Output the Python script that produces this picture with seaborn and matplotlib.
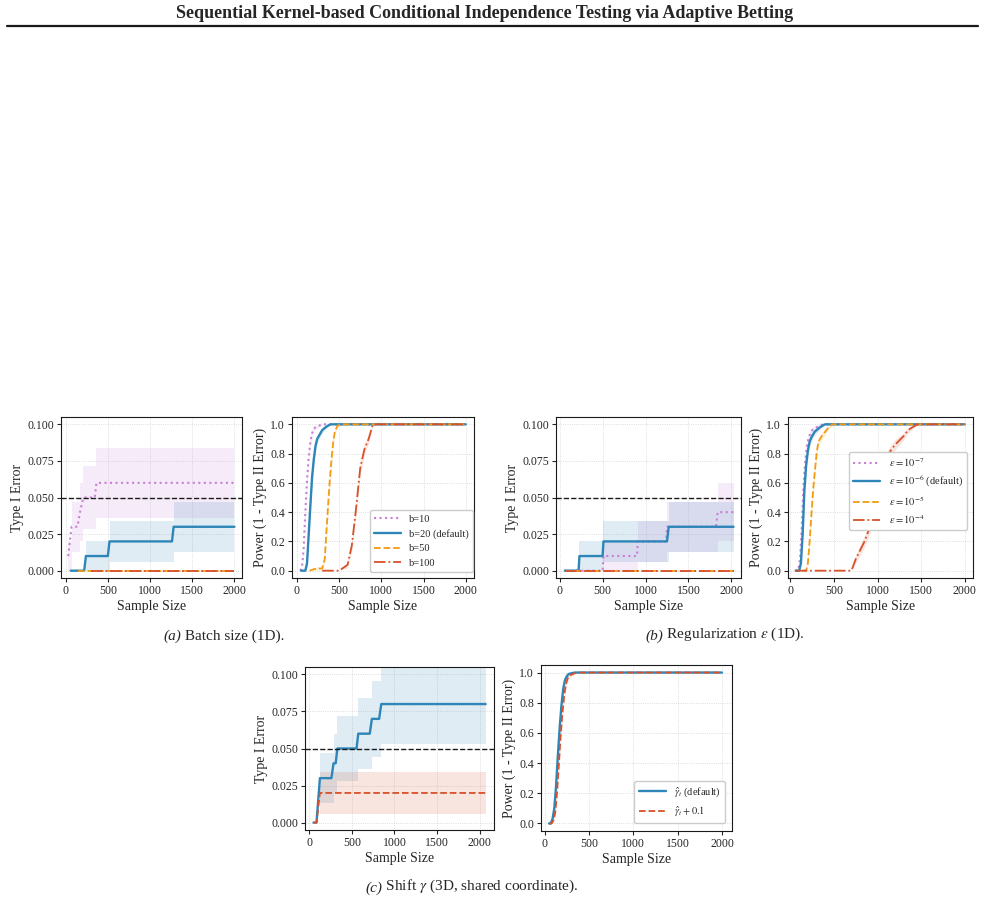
#!/usr/bin/env python3
#===============================================================================
# plot
#===============================================================================

# Imports ======================================================================

import numpy as np
import matplotlib
matplotlib.use('Agg')
import matplotlib.pyplot as plt
from matplotlib.lines import Line2D
import seaborn as sns


# Data =========================================================================

N_RUNS = 100

# (a) batch size - type I error
A_T1_B10_X = [30, 70, 140, 170, 210, 345, 365, 2000]
A_T1_B10_Y = [0.01, 0.03, 0.03, 0.04, 0.05, 0.05, 0.06, 0.06]
A_T1_B20_X = [60, 220, 240, 500, 520, 1260, 1280, 2000]
A_T1_B20_Y = [0, 0, 0.01, 0.01, 0.02, 0.02, 0.03, 0.03]
A_T1_B50_X = [150, 2000]
A_T1_B50_Y = [0, 0]
A_T1_B100_X = [300, 2000]
A_T1_B100_Y = [0, 0]

# (a) batch size - power
A_PW_B10_X = [40, 60, 80, 100, 120, 140, 160, 180, 200, 220, 260, 300, 2000]
A_PW_B10_Y = [0, 0.02, 0.15, 0.40, 0.62, 0.78, 0.88, 0.94, 0.97, 0.98, 0.99, 1.0, 1.0]
A_PW_B20_X = [50, 100, 120, 140, 160, 180, 200, 220, 240, 260, 280, 300, 340, 380, 400, 2000]
A_PW_B20_Y = [0, 0, 0.05, 0.25, 0.45, 0.64, 0.76, 0.85, 0.9, 0.92, 0.94, 0.96, 0.98, 0.995, 1.0, 1.0]
A_PW_B50_X = [150, 200, 250, 300, 330, 350, 370, 390, 410, 430, 450, 480, 520, 2000]
A_PW_B50_Y = [0, 0.01, 0.015, 0.015, 0.08, 0.27, 0.45, 0.62, 0.76, 0.88, 0.95, 0.99, 1.0, 1.0]
A_PW_B100_X = [300, 400, 500, 600, 650, 700, 750, 800, 850, 900, 2000]
A_PW_B100_Y = [0, 0, 0, 0.04, 0.17, 0.42, 0.70, 0.83, 0.90, 1.0, 1.0]

# (b) regularization - type I error
B_T1_E7_X = [60, 500, 510, 900, 910, 1240, 1250, 1820, 1840, 2025]
B_T1_E7_Y = [0, 0, 0.01, 0.01, 0.02, 0.02, 0.03, 0.03, 0.04, 0.04]
B_T1_E6_X = [60, 220, 230, 500, 510, 1250, 1270, 2025]
B_T1_E6_Y = [0, 0, 0.01, 0.01, 0.02, 0.02, 0.03, 0.03]
B_T1_E5_X = [60, 2025]
B_T1_E5_Y = [0, 0]
B_T1_E4_X = [60, 2025]
B_T1_E4_Y = [0, 0]

# (b) regularization - power
B_PW_E7_X = [60, 90, 110, 130, 150, 170, 190, 210, 230, 250, 270, 300, 340, 380, 2000]
B_PW_E7_Y = [0, 0, 0.08, 0.3, 0.58, 0.75, 0.86, 0.91, 0.94, 0.96, 0.97, 0.98, 0.995, 1.0, 1.0]
B_PW_E6_X = [60, 100, 120, 140, 160, 180, 200, 220, 240, 260, 280, 300, 340, 380, 400, 2000]
B_PW_E6_Y = [0, 0, 0.05, 0.25, 0.55, 0.72, 0.82, 0.88, 0.91, 0.93, 0.95, 0.96, 0.98, 0.995, 1.0, 1.0]
B_PW_E5_X = [140, 180, 200, 220, 240, 260, 280, 300, 320, 340, 360, 400, 440, 480, 2000]
B_PW_E5_Y = [0, 0, 0.05, 0.2, 0.38, 0.55, 0.68, 0.8, 0.88, 0.9, 0.92, 0.95, 0.98, 1.0, 1.0]
B_PW_E4_X = [60, 700, 750, 800, 850, 900, 950, 1000, 1050, 1100, 1150, 1200, 1250, 1300, 1350, 1400, 1460, 2000]
B_PW_E4_Y = [0, 0, 0.08, 0.14, 0.2, 0.28, 0.38, 0.52, 0.66, 0.76, 0.82, 0.86, 0.89, 0.92, 0.96, 0.98, 1.0, 1.0]

# (c) shift - type I error
C_T1_DEF_X = [50, 85, 125, 260, 285, 310, 330, 555, 575, 710, 735, 820, 845, 2070]
C_T1_DEF_Y = [0, 0, 0.03, 0.03, 0.04, 0.04, 0.05, 0.05, 0.06, 0.06, 0.07, 0.07, 0.08, 0.08]
C_T1_SHIFT_X = [50, 85, 125, 2070]
C_T1_SHIFT_Y = [0, 0, 0.02, 0.02]

# (c) shift - power
C_PW_DEF_X = [50, 70, 90, 110, 130, 150, 170, 190, 210, 230, 250, 270, 300, 340, 2000]
C_PW_DEF_Y = [0, 0, 0.03, 0.1, 0.25, 0.45, 0.63, 0.78, 0.89, 0.95, 0.975, 0.99, 0.995, 1.0, 1.0]
C_PW_SHIFT_X = [50, 80, 100, 120, 140, 160, 180, 200, 220, 240, 260, 280, 320, 360, 2000]
C_PW_SHIFT_Y = [0, 0, 0.02, 0.07, 0.2, 0.38, 0.57, 0.72, 0.84, 0.92, 0.96, 0.98, 0.99, 1.0, 1.0]

B_LABELS = ['b=10', 'b=20 (default)', 'b=50', 'b=100']
EPS_LABELS = [
    r'$\varepsilon=10^{-7}$', r'$\varepsilon=10^{-6}$ (default)',
    r'$\varepsilon=10^{-5}$', r'$\varepsilon=10^{-4}$'
]
GAMMA_LABELS = [r'$\hat{\gamma}_t$ (default)', r'$\hat{\gamma}_t+0.1$']

VIOLET = '#C97FD5'
BLUE = '#2E86B8'
ORANGE = '#F39C12'
RED = '#D7512B'


# Functions ====================================================================

def draw_series(ax, x, y, color, style, lw, label=None, step=False):
    x = np.asarray(x, dtype=float)
    y = np.asarray(y, dtype=float)
    se = np.sqrt(y * (1 - y) / N_RUNS)
    ax.fill_between(x, y - se, y + se, color=color, alpha=0.15, lw=0,
                    step='post' if step else None)
    sns.lineplot(x=x, y=y, color=color, linestyle=style, linewidth=lw,
                 label=label, ax=ax)


def style_axes(ax, kind, xlim):
    ax.set_xlim(*xlim)
    ax.set_xticks([0, 500, 1000, 1500, 2000])
    if kind == 'type1':
        ax.axhline(0.05, color='k', ls='--', lw=1.0, zorder=5)
        ax.set_ylim(-0.005, 0.105)
        ax.set_yticks([0, 0.025, 0.05, 0.075, 0.1])
        ax.set_yticklabels(['0.000', '0.025', '0.050', '0.075', '0.100'])
        ax.set_ylabel('Type I Error')
    else:
        ax.set_ylim(-0.05, 1.05)
        ax.set_yticks([0, 0.2, 0.4, 0.6, 0.8, 1.0])
        ax.set_yticklabels(['0.0', '0.2', '0.4', '0.6', '0.8', '1.0'])
        ax.set_ylabel('Power (1 - Type II Error)')
    ax.set_xlabel('Sample Size')
    ax.grid(True, color='#d4d4d4', linestyle=':', linewidth=0.6)
    ax.set_axisbelow(True)
    for s in ax.spines.values():
        s.set_color('k')
        s.set_linewidth(0.8)
    ax.tick_params(length=3, width=0.8, labelsize=8.5, pad=2)


def add_legend(ax, labels, anchor):
    handles = ax.get_lines()
    handles = [h for h in handles if h.get_label() in labels]
    ax.legend(handles=handles, labels=labels, loc='lower right',
              bbox_to_anchor=anchor, borderaxespad=0, fontsize=7.5,
              handlelength=2.6, frameon=True, framealpha=1.0,
              edgecolor='#cccccc')


def axes_at(fig, x0, x1, ytop, ybot, W=985, H=906):
    return fig.add_axes([x0 / W, 1 - ybot / H, (x1 - x0) / W, (ybot - ytop) / H])


def main():
    sns.set_theme(style='ticks')
    plt.rcParams['font.family'] = ['Liberation Serif', 'DejaVu Serif']
    plt.rcParams['mathtext.fontset'] = 'stix'
    plt.rcParams['axes.labelsize'] = 10
    plt.rcParams['axes.labelpad'] = 2

    fig = plt.figure(figsize=(9.85, 9.06), dpi=100)

    # header
    fig.text(0.4915, 1 - 13 / 906, 'Sequential Kernel-based Conditional '
             'Independence Testing via Adaptive Betting', ha='center',
             va='center', fontsize=13, fontweight='bold')
    fig.add_artist(Line2D([7 / 985, 978 / 985], [1 - 25.5 / 906] * 2,
                          transform=fig.transFigure, color='k', lw=1.6))

    # (a) --------------------------------------------------------------
    ax = axes_at(fig, 61, 242, 417, 578)
    draw_series(ax, A_T1_B10_X, A_T1_B10_Y, VIOLET, ':', 1.5, step=True)
    draw_series(ax, A_T1_B20_X, A_T1_B20_Y, BLUE, '-', 1.7, step=True)
    draw_series(ax, A_T1_B50_X, A_T1_B50_Y, ORANGE, '--', 1.3, step=True)
    draw_series(ax, A_T1_B100_X, A_T1_B100_Y, RED, '-.', 1.3, step=True)
    style_axes(ax, 'type1', (-55, 2090))

    ax = axes_at(fig, 292, 474, 417, 578)
    draw_series(ax, A_PW_B10_X, A_PW_B10_Y, VIOLET, ':', 1.5, B_LABELS[0])
    draw_series(ax, A_PW_B20_X, A_PW_B20_Y, BLUE, '-', 1.7, B_LABELS[1])
    draw_series(ax, A_PW_B50_X, A_PW_B50_Y, ORANGE, '--', 1.3, B_LABELS[2])
    draw_series(ax, A_PW_B100_X, A_PW_B100_Y, RED, '-.', 1.3, B_LABELS[3])
    style_axes(ax, 'power', (-58, 2098))
    add_legend(ax, B_LABELS, (0.995, 0.037))

    # (b) --------------------------------------------------------------
    ax = axes_at(fig, 556, 741, 417, 578)
    draw_series(ax, B_T1_E7_X, B_T1_E7_Y, VIOLET, ':', 1.5, step=True)
    draw_series(ax, B_T1_E6_X, B_T1_E6_Y, BLUE, '-', 1.7, step=True)
    draw_series(ax, B_T1_E5_X, B_T1_E5_Y, ORANGE, '--', 1.3, step=True)
    draw_series(ax, B_T1_E4_X, B_T1_E4_Y, RED, '-.', 1.3, step=True)
    style_axes(ax, 'type1', (-43, 2112))

    ax = axes_at(fig, 788, 973, 417, 578)
    draw_series(ax, B_PW_E7_X, B_PW_E7_Y, VIOLET, ':', 1.5, EPS_LABELS[0])
    draw_series(ax, B_PW_E6_X, B_PW_E6_Y, BLUE, '-', 1.7, EPS_LABELS[1])
    draw_series(ax, B_PW_E5_X, B_PW_E5_Y, ORANGE, '--', 1.3, EPS_LABELS[2])
    draw_series(ax, B_PW_E4_X, B_PW_E4_Y, RED, '-.', 1.3, EPS_LABELS[3])
    style_axes(ax, 'power', (-28, 2095))
    add_legend(ax, EPS_LABELS, (0.968, 0.298))

    # (c) --------------------------------------------------------------
    ax = axes_at(fig, 305, 494, 667, 830)
    draw_series(ax, C_T1_DEF_X, C_T1_DEF_Y, BLUE, '-', 1.7, step=True)
    draw_series(ax, C_T1_SHIFT_X, C_T1_SHIFT_Y, RED, '--', 1.3, step=True)
    style_axes(ax, 'type1', (-50, 2168))

    ax = axes_at(fig, 541, 732, 665, 831)
    draw_series(ax, C_PW_DEF_X, C_PW_DEF_Y, BLUE, '-', 1.7, GAMMA_LABELS[0])
    draw_series(ax, C_PW_SHIFT_X, C_PW_SHIFT_Y, RED, '--', 1.3, GAMMA_LABELS[1])
    style_axes(ax, 'power', (-40, 2113))
    add_legend(ax, GAMMA_LABELS, (0.963, 0.048))

    # captions
    bg = fig.add_axes([0, 0, 1, 1], zorder=-1)
    bg.axis('off')
    for left, ytop, tag, rest in (
        (163, 636, '(a)', ' Batch size (1D).'),
        (645, 636, '(b)', r' Regularization $\varepsilon$ (1D).'),
        (365, 888, '(c)', r' Shift $\gamma$ (3D, shared coordinate).'),
    ):
        t = bg.text(left / 985, 1 - ytop / 906, tag, style='italic',
                    fontsize=11, ha='left', va='center',
                    transform=bg.transAxes)
        bg.annotate(rest, xy=(1, 0), xycoords=t, ha='left', va='bottom',
                    fontsize=11)

    fig.savefig('out.png', dpi=100)


# Execute ======================================================================

if __name__ == '__main__':
    main()
